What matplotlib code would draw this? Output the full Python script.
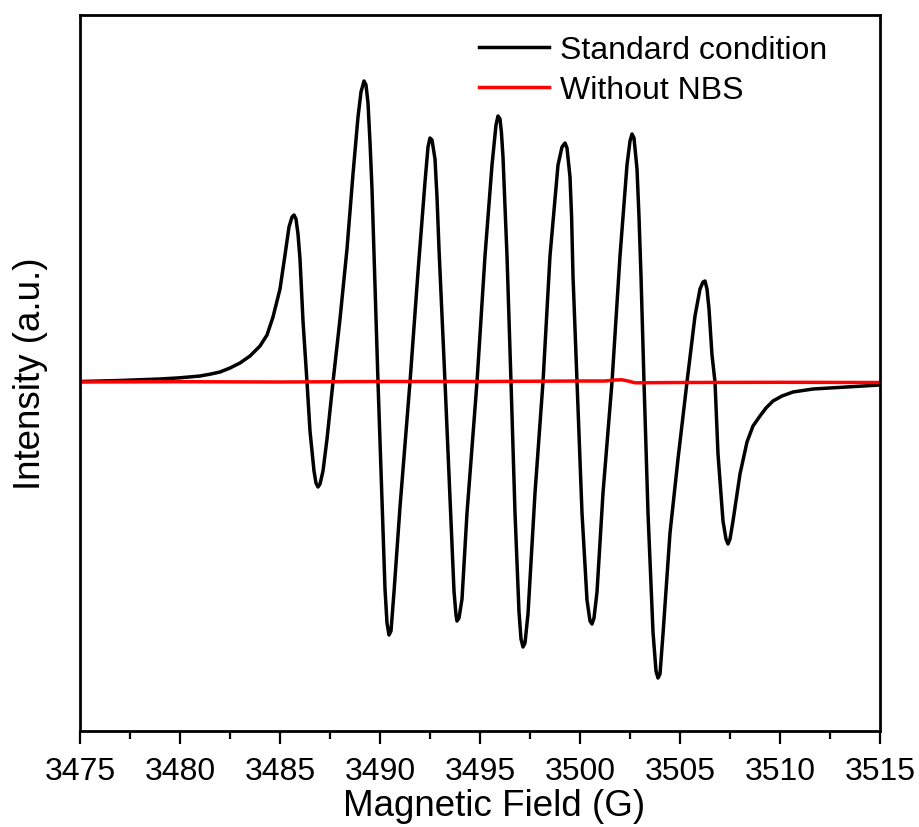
import matplotlib
matplotlib.use("Agg")
import matplotlib.pyplot as plt
from matplotlib.ticker import MultipleLocator

# ---- data ----
field_std = [3475.00, 3477.00, 3479.00, 3480.00, 3481.00, 3481.50, 3482.00, 3482.50, 3483.00, 3483.50,
             3484.00, 3484.35, 3484.65,
             3485.00, 3485.25, 3485.45, 3485.60, 3485.70, 3485.80, 3485.90, 3486.00, 3486.15, 3486.35,
             3486.50, 3486.70, 3486.80, 3486.90, 3487.00, 3487.15, 3487.35, 3487.65, 3488.00, 3488.35,
             3488.65, 3488.90, 3489.05, 3489.20, 3489.30, 3489.40, 3489.50, 3489.60, 3489.75, 3489.90,
             3490.10, 3490.25, 3490.35, 3490.45, 3490.55, 3490.70, 3491.00, 3491.50, 3491.90, 3492.25,
             3492.40, 3492.50, 3492.60, 3492.75, 3492.85, 3492.95, 3493.25, 3493.50, 3493.70, 3493.80,
             3493.85, 3493.95, 3494.10, 3494.35, 3494.85, 3495.25, 3495.60, 3495.80, 3495.90, 3496.00,
             3496.07, 3496.15, 3496.35, 3496.55, 3496.75, 3496.95, 3497.05, 3497.15, 3497.25, 3497.40,
             3497.75, 3498.15, 3498.50, 3498.90, 3499.10, 3499.25, 3499.35, 3499.50, 3499.58, 3499.65,
             3499.85, 3500.10, 3500.35, 3500.50, 3500.60, 3500.70, 3500.85, 3501.15, 3501.60, 3502.00,
             3502.35, 3502.50, 3502.60, 3502.70, 3502.85, 3502.95, 3503.05, 3503.20, 3503.40, 3503.65,
             3503.80, 3503.90, 3504.00, 3504.15, 3504.50, 3504.90, 3505.35, 3505.75, 3506.00, 3506.15,
             3506.25, 3506.35, 3506.45, 3506.60, 3506.75, 3506.90, 3507.15, 3507.30, 3507.40, 3507.50,
             3507.65, 3508.00, 3508.35, 3508.65, 3509.00, 3509.30, 3509.65, 3510.10, 3510.65, 3511.65,
             3513.35, 3515.00]
intensity_std = [0.5, 1.5, 3, 4.2, 6, 7.8, 10, 14, 19, 26,
                 36, 47, 65,
                 93, 127, 155, 165, 167, 163, 148, 123, 61, 0,
                 -49, -89, -101, -105, -102, -89, -57, 0, 63, 133,
                 208, 265, 290, 301, 297, 279, 240, 193, 96, 0,
                 -117, -207, -241, -253, -249, -210, -125, 0, 110, 200,
                 235, 244, 242, 223, 185, 133, 0, -117, -209, -233,
                 -239, -236, -217, -131, 0, 126, 217, 257, 266, 263,
                 250, 225, 126, 0, -131, -230, -257, -265, -261, -232,
                 -111, 0, 126, 217, 235, 239, 234, 205, 165, 106,
                 0, -131, -218, -239, -242, -236, -210, -111, 0, 126,
                 217, 241, 248, 244, 213, 165, 106, 0, -131, -250,
                 -289, -296, -292, -252, -151, -77, 0, 66, 93, 100,
                 101, 93, 73, 27, 0, -72, -139, -157, -162, -157,
                 -139, -92, -60, -44, -34, -26, -19, -14, -10, -7,
                 -5, -3]

field_nbs = [3475.0, 3480.0, 3485.0, 3490.0, 3495.0, 3500.0, 3501.25, 3501.75, 3502.1, 3502.4,
             3502.75, 3505.0, 3510.0, 3515.0]
intensity_nbs = [0.0, 0.3, 0.0, 0.5, 0.5, 1.0, 1.0, 2.0, 2.2, 1.0,
                 -0.8, -0.5, -0.3, -0.5]

labels = ["Standard condition", "Without NBS"]
xticks = [3475, 3480, 3485, 3490, 3495, 3500, 3505, 3510, 3515]

plt.rcParams['font.family'] = ['Liberation Sans', 'DejaVu Sans']

fig = plt.figure(figsize=(9.19, 8.28), dpi=100)
ax = fig.add_axes([80/919, 96/828, 800/919, 716/828])

ax.plot(field_std, intensity_std, color='black', lw=2.5, label=labels[0],
        solid_joinstyle='round')
ax.plot(field_nbs, intensity_nbs, color='#ff0000', lw=2.5, label=labels[1])

ax.set_xlim(3475, 3515)
ax.set_ylim(-349, 367)
ax.set_xticks(xticks)
ax.xaxis.set_minor_locator(MultipleLocator(2.5))
ax.set_yticks([])
ax.tick_params(axis='x', which='major', direction='out', length=9.5, width=1.6,
               labelsize=23, pad=8.5, top=False)
ax.tick_params(axis='x', which='minor', direction='out', length=5.5, width=1.6, top=False)
for s in ax.spines.values():
    s.set_linewidth(2.0)

ax.set_xlabel("Magnetic Field (G)", fontsize=26.5, labelpad=1.5)
ax.xaxis.label.set_x(0.517)
ax.set_ylabel("Intensity (a.u.)", fontsize=26.5, labelpad=23)

leg = ax.legend(loc='upper left', bbox_to_anchor=(0.49875, 0.972), frameon=False,
                fontsize=23, handlelength=2.2, handletextpad=0.35, labelspacing=0.32,
                borderpad=0, borderaxespad=0)

fig.savefig("out.png", dpi=100)
